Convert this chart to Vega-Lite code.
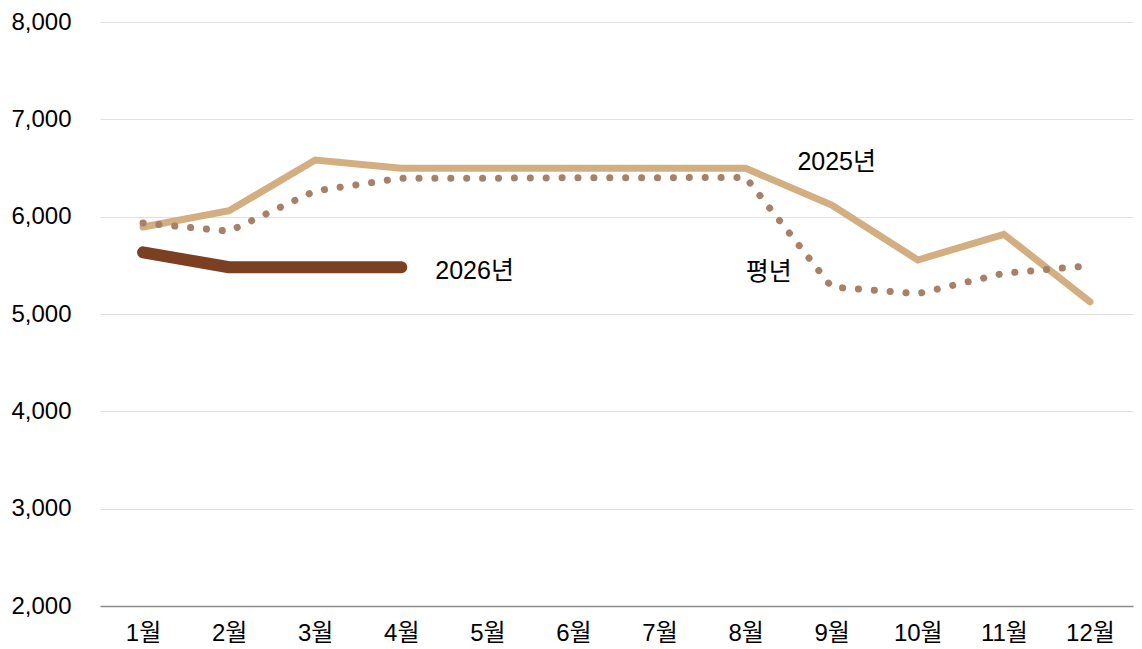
{
  "$schema": "https://vega.github.io/schema/vega-lite/v6.json",
  "autosize": "none",
  "width": 1033,
  "height": 584,
  "padding": {"left": 100, "top": 22, "right": 9, "bottom": 43},
  "background": "white",
  "config": {
    "view": {"stroke": null},
    "font": "'Liberation Sans', 'Noto Sans CJK KR', sans-serif"
  },
  "data": {
    "values": [
      {"series": "2025년", "month": "1월", "value": 5894},
      {"series": "2025년", "month": "2월", "value": 6061},
      {"series": "2025년", "month": "3월", "value": 6582},
      {"series": "2025년", "month": "4월", "value": 6497},
      {"series": "2025년", "month": "5월", "value": 6497},
      {"series": "2025년", "month": "6월", "value": 6497},
      {"series": "2025년", "month": "7월", "value": 6497},
      {"series": "2025년", "month": "8월", "value": 6497},
      {"series": "2025년", "month": "9월", "value": 6120},
      {"series": "2025년", "month": "10월", "value": 5555},
      {"series": "2025년", "month": "11월", "value": 5819},
      {"series": "2025년", "month": "12월", "value": 5126},
      {"series": "평년", "month": "1월", "value": 5935},
      {"series": "평년", "month": "2월", "value": 5850},
      {"series": "평년", "month": "3월", "value": 6264},
      {"series": "평년", "month": "4월", "value": 6395},
      {"series": "평년", "month": "5월", "value": 6395},
      {"series": "평년", "month": "6월", "value": 6400},
      {"series": "평년", "month": "7월", "value": 6400},
      {"series": "평년", "month": "8월", "value": 6404},
      {"series": "평년", "month": "9월", "value": 5277},
      {"series": "평년", "month": "10월", "value": 5209},
      {"series": "평년", "month": "11월", "value": 5418},
      {"series": "평년", "month": "12월", "value": 5497},
      {"series": "2026년", "month": "1월", "value": 5634},
      {"series": "2026년", "month": "2월", "value": 5480},
      {"series": "2026년", "month": "3월", "value": 5480},
      {"series": "2026년", "month": "4월", "value": 5480}
    ]
  },
  "encoding": {
    "x": {
      "field": "month",
      "type": "ordinal",
      "sort": ["1월","2월","3월","4월","5월","6월","7월","8월","9월","10월","11월","12월"],
      "scale": {"type": "point", "padding": 0.5},
      "axis": {
        "title": null,
        "labelAngle": 0,
        "ticks": false,
        "domainColor": "#8c8c8c",
        "domainWidth": 1.5,
        "labelFontSize": 24,
        "labelColor": "#000000",
        "labelPadding": 15
      }
    },
    "y": {
      "field": "value",
      "type": "quantitative",
      "scale": {"domain": [2000, 8000], "nice": false, "zero": false},
      "axis": {
        "title": null,
        "values": [2000, 3000, 4000, 5000, 6000, 7000, 8000],
        "format": ",d",
        "domain": false,
        "ticks": false,
        "gridColor": "#e0e0e0",
        "gridWidth": 1,
        "labelFontSize": 24,
        "labelColor": "#000000",
        "labelPadding": 29
      }
    }
  },
  "layer": [
    {
      "transform": [{"filter": "datum.series === '2025년'"}],
      "mark": {"type": "line", "color": "#D2AE80", "strokeWidth": 7, "strokeJoin": "miter", "strokeCap": "round"}
    },
    {
      "transform": [{"filter": "datum.series === '평년'"}],
      "mark": {"type": "line", "color": "#A88068", "strokeWidth": 7, "strokeDash": [0.1, 15.8], "strokeCap": "round"}
    },
    {
      "transform": [{"filter": "datum.series === '2026년'"}],
      "mark": {"type": "line", "color": "#7B3F22", "strokeWidth": 12, "strokeCap": "round", "strokeJoin": "round"}
    },
    {
      "transform": [{"filter": "datum.series === '2025년' && datum.month === '9월'"}],
      "mark": {"type": "text", "align": "center", "baseline": "middle", "dx": 5, "dy": -43, "fontSize": 25, "color": "#000000"},
      "encoding": {"text": {"field": "series"}}
    },
    {
      "transform": [{"filter": "datum.series === '2026년' && datum.month === '4월'"}],
      "mark": {"type": "text", "align": "left", "baseline": "middle", "dx": 34, "dy": 4, "fontSize": 25, "color": "#000000"},
      "encoding": {"text": {"field": "series"}}
    },
    {
      "transform": [{"filter": "datum.series === '평년' && datum.month === '9월'"}],
      "mark": {"type": "text", "align": "right", "baseline": "middle", "dx": -40, "dy": -15, "fontSize": 25, "color": "#000000"},
      "encoding": {"text": {"field": "series"}}
    }
  ]
}
